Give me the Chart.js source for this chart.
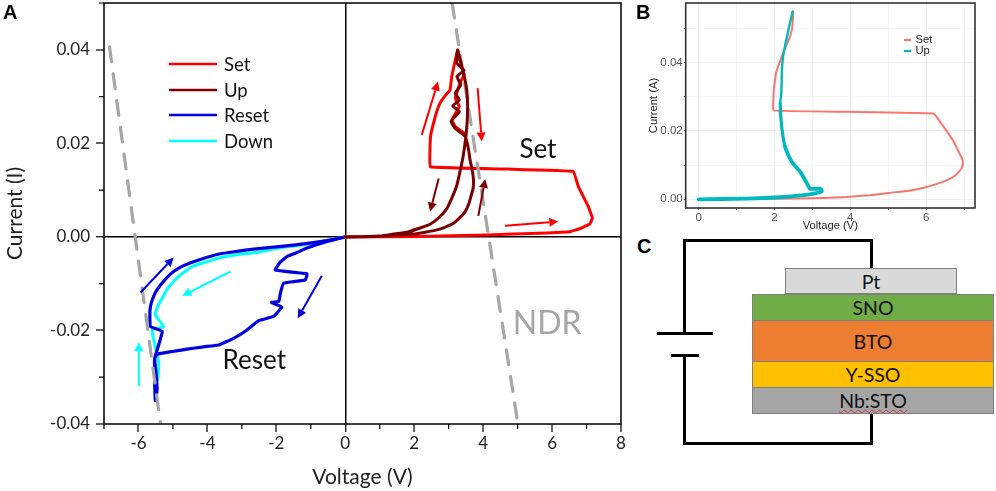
<!DOCTYPE html>
<html><head><meta charset="utf-8">
<script src="https://cdn.jsdelivr.net/npm/chart.js@4"></script>
<style>
html,body{margin:0;padding:0;background:#fff;width:996px;height:491px;overflow:hidden}
canvas{position:absolute}
.abs{position:absolute;box-sizing:border-box}
.letter{font:bold 20px "Liberation Sans",sans-serif;color:#000;line-height:20px}
.layer{left:752px;width:242px;border:1px solid #7f7f7f;display:flex;align-items:center;justify-content:center;font:19.5px Lato,sans-serif;color:#111}
.wire{background:#000}
</style></head><body>
<div id="wrapA" class="abs" style="left:0;top:0;width:630px;height:491px"><canvas id="a"></canvas></div>
<div id="wrapB" class="abs" style="left:630px;top:0;width:366px;height:235px"><canvas id="b"></canvas></div>
<div class="abs letter" style="left:3px;top:2px">A</div>
<div class="abs letter" style="left:636px;top:2px">B</div>
<div class="abs letter" style="left:637px;top:236px">C</div>
<div class="abs wire" style="left:683px;top:239px;width:190px;height:3px"></div>
<div class="abs wire" style="left:870px;top:239px;width:3px;height:30px"></div>
<div class="abs wire" style="left:683px;top:239px;width:3px;height:95px"></div>
<div class="abs wire" style="left:657px;top:332px;width:56px;height:3px"></div>
<div class="abs wire" style="left:671px;top:354px;width:28px;height:3px"></div>
<div class="abs wire" style="left:683px;top:354px;width:3px;height:91px"></div>
<div class="abs wire" style="left:683px;top:442px;width:190px;height:3px"></div>
<div class="abs wire" style="left:870px;top:413px;width:3px;height:32px"></div>
<div class="abs layer" style="left:785px;width:172px;top:268px;height:26px;background:#d9d9d9">Pt</div>
<div class="abs layer" style="top:294px;height:27px;background:#70ad47">SNO</div>
<div class="abs layer" style="top:320px;height:42px;background:#ed7d31">BTO</div>
<div class="abs layer" style="top:361px;height:27px;background:#ffc000">Y-SSO</div>
<div class="abs layer" style="top:387px;height:27px;background:#a5a5a5"><span style="text-decoration:underline wavy #d9334a 1px;text-underline-offset:1px">Nb:STO</span></div>
<script>
// Panel A values (voltage in V, current in A)
const setV=[0,2.08,4.11,5.65,6.52,6.86,7.10,7.17,7.05,6.76,6.62,4.69,2.46,2.46,2.48,2.56,2.64,2.75,2.90,3.04,3.09,3.26,3.38,3.45,3.33,3.19,3.31,3.09,3.19,3.48];
const setI=[0,.0001,.0004,.0008,.0011,.0019,.0028,.0040,.0065,.0108,.0140,.0145,.0150,.0193,.0218,.0243,.0265,.0286,.0302,.0314,.0343,.0400,.0361,.0347,.0329,.0297,.0279,.0250,.0236,.0220];
const upV=[0,1.01,1.40,1.79,2.17,2.46,2.73,2.95,3.11,3.24,3.33,3.41,3.47,3.51,3.54,3.55,3.54,3.51,3.43,3.26,3.24,3.45,3.24,3.35,3.19,3.31,3.12,3.31,3.07,3.19,3.48,3.57,3.62,3.69,3.72,3.71,3.67,3.59,3.48,3.31,3.14,2.90,2.66,2.32,1.98,.82,0];
const upI=[0,.0002,.0006,.0010,.0019,.0027,.0042,.0061,.0086,.0111,.0140,.0168,.0197,.0222,.0250,.0279,.0300,.0322,.0350,.0399,.0371,.0356,.0343,.0325,.0307,.0293,.0280,.0268,.0247,.0232,.0215,.0190,.0165,.0140,.0122,.0104,.0093,.0072,.0054,.0040,.0029,.0021,.0015,.0010,.0006,.0001,0];
const resetV=[0,-.53,-1.11,-1.45,-1.69,-1.90,-2.03,-1.11,-1.16,-1.79,-1.88,-1.93,-2.14,-1.84,-2.08,-2.51,-2.85,-3.24,-3.67,-4.11,-4.59,-5.02,-5.46,-5.53,-5.48,-5.46,-5.51,-5.53,-5.53,-5.31,-5.65,-5.67,-5.65,-5.60,-5.50,-5.36,-5.19,-4.98,-4.71,-4.40,-4.03,-3.62,-3.14,-2.66,-1.93,-1.21,-.53,0];
const resetI=[0,-.0010,-.0024,-.0035,-.0042,-.0055,-.0071,-.0079,-.0092,-.0099,-.0120,-.0138,-.0140,-.0150,-.0170,-.0179,-.0199,-.0217,-.0231,-.0235,-.0240,-.0245,-.0251,-.0260,-.0299,-.0327,-.0350,-.0306,-.0260,-.0202,-.0192,-.0163,-.0148,-.0135,-.0118,-.0103,-.0088,-.0074,-.0062,-.0053,-.0044,-.0036,-.0031,-.0026,-.0021,-.0015,-.0008,0];
const downV=[0,-1.21,-1.93,-2.66,-3.14,-3.62,-4.01,-4.40,-4.69,-4.93,-5.17,-5.31,-5.44,-5.51,-5.27,-5.60,-5.51,-5.41,-5.44];
const downI=[0,-.0017,-.0024,-.0034,-.0038,-.0044,-.0053,-.0062,-.0076,-.0091,-.0112,-.0131,-.0148,-.0167,-.0192,-.0199,-.0235,-.0270,-.0306];
const ndrLeftV=[-6.84,-5.36];
const ndrLeftI=[.0406,-.04];
const ndrRightV=[3.10,5.01];
const ndrRightI=[.05,-.04];
const arrowFromV=[2.22,3.84,2.71,3.86,4.64,-5.94,-3.33,-.68,-5.99];
const arrowFromI=[.0218,.0318,.0125,.0045,.0024,-.0119,-.0074,-.0083,-.0319];
const arrowToV=[2.69,3.96,2.46,4.06,6.18,-4.98,-4.73,-1.38,-5.99];
const arrowToI=[.0332,.0204,.0054,.0124,.0033,-.0044,-.0126,-.0174,-.0225];
const arrowColors=['#ff0000','#ff0000','#7a0000','#7a0000','#ff0000','#0000e0','#00ffff','#0000e0','#00ffff'];
const legendA=['Set','Up','Reset','Down'];
const legendColorsA=['#ff0000','#7a0000','#0000e0','#00ffff'];
// Panel B values
const simSetV=[0,1.27,2.59,3.30,3.91,4.53,5.06,5.54,5.94,6.29,6.56,6.75,6.86,6.94,6.97,6.95,6.86,6.73,6.56,6.38,6.20,3.91,1.97,1.97,1.98,2.01,2.04,2.11,2.19,2.30,2.41,2.46,2.48,2.49,2.48];
const simSetI=[0,.0001,.0002,.0004,.0007,.0012,.0019,.0025,.0034,.0045,.0056,.0068,.0080,.0092,.0105,.0119,.0139,.0168,.0197,.0225,.0251,.0256,.0260,.0290,.0320,.0346,.0369,.0393,.0417,.0447,.0476,.0496,.0515,.0535,.0549];
const simUpV=[0,1.27,2.15,2.77,3.07,3.25,3.21,2.94,2.85,2.68,2.46,2.28,2.19,2.15,2.18,2.20,2.24,2.37,2.48];
const simUpI=[0,.0002,.0006,.0012,.0017,.0023,.0031,.0031,.0048,.0080,.0109,.0153,.0212,.0281,.0310,.0388,.0427,.0496,.0549];
const legendB=['Set','Up'];
const legendColorsB=['#f8766d','#00b8bf'];

const pts=(xs,ys)=>xs.map((x,i)=>({x,y:ys[i]}));
const LATO='Lato, sans-serif', ARIAL='"Liberation Sans", Arial, sans-serif';
const even=v=>Math.round(v)%2===0;
const evenC=v=>Math.round(v*100)%2===0;
const noPad=s=>{s.paddingTop=0;s.paddingBottom=0;s.paddingLeft=0;s.paddingRight=0;};

const panelAExtras={id:'panelAExtras',afterDatasetsDraw(c){
  const g=c.ctx,{x,y}=c.scales,ar=c.chartArea;
  g.save();
  arrowFromV.forEach((_,i)=>{
    const x0=x.getPixelForValue(arrowFromV[i]),y0=y.getPixelForValue(arrowFromI[i]);
    const x1=x.getPixelForValue(arrowToV[i]),y1=y.getPixelForValue(arrowToI[i]);
    const t=Math.atan2(y1-y0,x1-x0),L=9,W=4.5;
    g.strokeStyle=g.fillStyle=arrowColors[i];g.lineWidth=2;
    g.beginPath();g.moveTo(x0,y0);g.lineTo(x1-L*Math.cos(t),y1-L*Math.sin(t));g.stroke();
    g.beginPath();g.moveTo(x1,y1);
    g.lineTo(x1-L*Math.cos(t)-W*Math.sin(t),y1-L*Math.sin(t)+W*Math.cos(t));
    g.lineTo(x1-L*Math.cos(t)+W*Math.sin(t),y1-L*Math.sin(t)-W*Math.cos(t));
    g.closePath();g.fill();
  });
  g.textAlign='center';g.textBaseline='middle';
  g.fillStyle='#111';g.font='26px '+LATO;
  g.fillText('Set',x.getPixelForValue(5.59),y.getPixelForValue(.0186));
  g.fillText('Reset',x.getPixelForValue(-2.64),y.getPixelForValue(-.0265));
  g.fillStyle='#a6a6a6';g.font='32px '+LATO;
  g.fillText('NDR',x.getPixelForValue(5.86),y.getPixelForValue(-.0186));
  g.textAlign='left';g.font='18.5px '+LATO;
  const ly=[64,90,115,141];
  legendA.forEach((t,i)=>{
    g.strokeStyle=legendColorsA[i];g.lineWidth=2.5;
    g.beginPath();g.moveTo(169,ly[i]);g.lineTo(217,ly[i]);g.stroke();
    g.fillStyle='#111';g.fillText(t,224,ly[i]+1);
  });
  g.strokeStyle='#000';g.lineWidth=1.5;
  g.strokeRect(ar.left,ar.top,ar.right-ar.left,ar.bottom-ar.top);
  g.lineWidth=1.2;g.beginPath();
  x.ticks.forEach(k=>{if(!even(k.value)){const p=x.getPixelForValue(k.value);g.moveTo(p,ar.bottom);g.lineTo(p,ar.bottom+5);}});
  y.ticks.forEach(k=>{if(!evenC(k.value)){const p=y.getPixelForValue(k.value);g.moveTo(ar.left,p);g.lineTo(ar.left-5,p);}});
  g.stroke();
  g.restore();
}};

new Chart(document.getElementById('a'),{type:'scatter',
 data:{datasets:[
  {label:'NDR left',data:pts(ndrLeftV,ndrLeftI),borderColor:'#a6a6a6',borderWidth:3.2,borderDash:[15,12],order:2},
  {label:'NDR right',data:pts(ndrRightV,ndrRightI),borderColor:'#a6a6a6',borderWidth:3.2,borderDash:[15,12],order:2},
  {label:'Up',data:pts(upV,upI),borderColor:'#7a0000',borderWidth:3,order:1,tension:.12},
  {label:'Set',data:pts(setV,setI),borderColor:'#ff0000',borderWidth:3,order:3,tension:.05},
  {label:'Reset',data:pts(resetV,resetI),borderColor:'#0000e0',borderWidth:3.2,order:3,tension:.1},
  {label:'Down',data:pts(downV,downI),borderColor:'#00ffff',borderWidth:3,order:4,tension:.15}
 ].map(d=>Object.assign({showLine:true,pointRadius:0,fill:false,borderCapStyle:'round',borderJoinStyle:'round'},d))},
 options:{responsive:true,maintainAspectRatio:false,animation:false,
  layout:{padding:{top:3,right:9,left:0,bottom:0}},
  plugins:{legend:{display:false},tooltip:{enabled:false}},
  scales:{
   x:{type:'linear',min:-7,max:8,afterFit:s=>{s.height=67;noPad(s);},
    border:{display:false},
    grid:{drawTicks:true,tickLength:8,lineWidth:c=>Math.abs(c.tick.value)<1e-9?1.5:0,color:'#000',
      tickColor:c=>even(c.tick.value)?'#000':'rgba(0,0,0,0)',tickWidth:1.2},
    ticks:{stepSize:1,autoSkip:false,maxRotation:0,padding:1,color:'#222',font:{family:LATO,size:17},callback:v=>even(v)?String(Math.round(v)):''},
    title:{display:true,text:'Voltage (V)',color:'#222',font:{family:LATO,size:21},padding:{top:0,bottom:1}}},
   y:{type:'linear',min:-.04,max:.05,afterFit:s=>{s.width=104;noPad(s);},
    border:{display:false},
    grid:{drawTicks:true,tickLength:8,lineWidth:c=>Math.abs(c.tick.value)<1e-9?1.5:0,color:'#000',
      tickColor:c=>evenC(c.tick.value)?'#000':'rgba(0,0,0,0)',tickWidth:1.2},
    ticks:{stepSize:.01,autoSkip:false,padding:6,color:'#222',font:{family:LATO,size:17},callback:v=>evenC(v)?v.toFixed(2):''},
    title:{display:true,text:'Current (I)',color:'#222',font:{family:LATO,size:21},padding:{top:3,bottom:0}}}
  }},
 plugins:[panelAExtras]});

const panelBExtras={id:'panelBExtras',afterDatasetsDraw(c){
  const g=c.ctx,ar=c.chartArea;
  g.save();
  g.strokeStyle='#333';g.lineWidth=1.6;
  g.strokeRect(ar.left,ar.top,ar.right-ar.left,ar.bottom-ar.top);
  g.font='11.2px '+ARIAL;g.textBaseline='middle';g.textAlign='left';
  legendB.forEach((t,i)=>{
    const ly=40+i*11;
    g.strokeStyle=legendColorsB[i];g.lineWidth=2.2;
    g.beginPath();g.moveTo(274,ly);g.lineTo(281,ly);g.stroke();
    g.fillStyle='#222';g.fillText(t,285.5,ly);
  });
  g.restore();
}};

new Chart(document.getElementById('b'),{type:'scatter',
 data:{datasets:[
  {label:'Up',data:pts(simUpV,simUpI),borderColor:'#00b8bf',borderWidth:3,order:1,tension:.2,
   segment:{borderWidth:c=>c.p0DataIndex<11?3.8:c.p0DataIndex<13?3.2:2.4}},
  {label:'Set',data:pts(simSetV,simSetI),borderColor:'#f8766d',borderWidth:2,order:2,tension:.08}
 ].map(d=>Object.assign({showLine:true,pointRadius:0,fill:false,borderCapStyle:'round',borderJoinStyle:'round'},d))},
 options:{responsive:true,maintainAspectRatio:false,animation:false,
  layout:{padding:{top:3,right:21,left:0,bottom:0}},
  plugins:{legend:{display:false},tooltip:{enabled:false}},
  scales:{
   x:{type:'linear',min:-.343,max:7.29,afterFit:s=>{s.height=27;noPad(s);},
    border:{display:false},
    grid:{color:c=>even(c.tick.value)?'#efefef':'#f6f6f6',lineWidth:1,tickLength:2,tickColor:'#666'},
    ticks:{stepSize:1,includeBounds:false,autoSkip:false,maxRotation:0,padding:1,color:'#555',font:{family:ARIAL,size:11.5},callback:v=>even(v)?String(Math.round(v)):''},
    title:{display:true,text:'Voltage (V)',color:'#222',font:{family:ARIAL,size:11.2},padding:{top:0,bottom:2}}},
   y:{type:'linear',min:-.00255,max:.0574,afterFit:s=>{s.width=55.7;noPad(s);},
    border:{display:false},
    grid:{color:c=>evenC(c.tick.value)?'#efefef':'#f6f6f6',lineWidth:1,tickLength:2,tickColor:'#666'},
    ticks:{stepSize:.01,includeBounds:false,autoSkip:false,padding:1,color:'#555',font:{family:ARIAL,size:11.5},callback:v=>evenC(v)?v.toFixed(2):''},
    title:{display:true,text:'Current (A)',color:'#222',font:{family:ARIAL,size:11.2},padding:{top:17,bottom:0}}}
  }},
 plugins:[panelBExtras]});
</script>
</body></html>
